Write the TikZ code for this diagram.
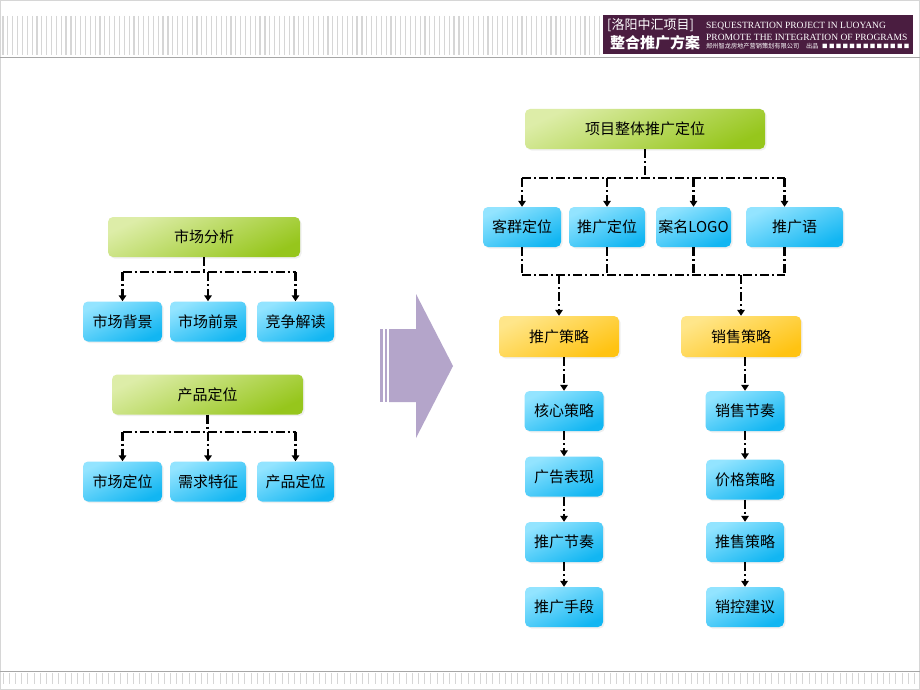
\documentclass[tikz,border=0pt]{standalone}
\usepackage{fontspec}
\setmainfont{Noto Sans CJK SC}
\newfontfamily\enserif{Liberation Serif}
\usetikzlibrary{positioning,arrows.meta,shadows,calc}

\definecolor{greenA}{HTML}{DDEDA8}
\definecolor{greenB}{HTML}{96C61C}
\definecolor{blueA}{HTML}{93E4FF}
\definecolor{blueB}{HTML}{12B6F2}
\definecolor{yellowA}{HTML}{FFE68A}
\definecolor{yellowB}{HTML}{FFC312}
\definecolor{headpurple}{HTML}{4A1D40}
\definecolor{arrowpurple}{HTML}{B4A5CA}
\definecolor{stripegray}{HTML}{D6D6D6}

\begin{document}
\begin{tikzpicture}[x=1pt,y=-1pt,
  box/.style={rounded corners=5pt,minimum height=40pt,inner sep=0pt,
    font=\fontsize{15}{17}\selectfont,
    drop shadow={opacity=0.12,shadow xshift=1.5pt,shadow yshift=-1.5pt}},
  greenbox/.style={box,top color=greenA,bottom color=greenB,shading angle=25},
  bluebox/.style={box,top color=blueA,bottom color=blueB,shading angle=25},
  yellowbox/.style={box,minimum height=41pt,minimum width=120pt,top color=yellowA,bottom color=yellowB,shading angle=25},
  link/.style={line width=2.2pt,dash pattern=on 9pt off 3pt on 2pt off 3pt},
  tip/.style={link,-{Triangle[length=6pt,width=7.5pt]}},
  headtext/.style={anchor=west,inner sep=0pt,text=white}
]
\useasboundingbox (0,0) rectangle (920,690);
\fill[white] (0,0) rectangle (920,690);
\draw[stripegray] (0.5,0.5) rectangle (919.5,689.5);

% header
\foreach \i in {0,...,123}
  \draw[stripegray,line width=1.2pt] ({3+\i*4.85},16) -- ++(0,39);
\draw[gray!70] (0,57) -- (920,57);
\fill[headpurple] (603,15) rectangle (913,54);
\node[headtext,font=\fontsize{13}{13}\selectfont] (hname) at (607,25.5) {[洛阳中汇项目]};
\node[headtext,font=\bfseries\fontsize{15}{15}\selectfont] (hsub) at (610,43) {整合推广方案};
\node[headtext,font=\enserif\fontsize{9.5}{10}\selectfont] (hen1) at (706,26) {SEQUESTRATION PROJECT IN LUOYANG};
\node[headtext,font=\enserif\fontsize{9.5}{10}\selectfont] (hen2) at (706,37) {PROMOTE THE INTEGRATION OF PROGRAMS};
\node[headtext,font=\fontsize{6.2}{7}\selectfont] (hcn) at (706,46.5) {郑州智龙房地产营销策划有限公司\hspace{7pt}出品};
\node[headtext,font=\fontsize{5.5}{6}\selectfont] (hsq) at (822,46.5)
  {■\hspace{1.3pt}■\hspace{1.3pt}■\hspace{1.3pt}■\hspace{1.3pt}■\hspace{1.3pt}■\hspace{1.3pt}■\hspace{1.3pt}■\hspace{1.3pt}■\hspace{1.3pt}■\hspace{1.3pt}■\hspace{1.3pt}■\hspace{1.3pt}■};

% footer
\draw[gray!70] (0,671) -- (920,671);
\foreach \i in {0,...,147}
  \draw[stripegray,line width=1pt] ({3+\i*6.2},673) -- ++(0,11);

% left side
\node[greenbox,minimum width=192pt] (scfx) at (204,237) {市场分析};
\node[bluebox,minimum width=79pt] (scbj) at (122.5,321.5) {市场背景};
\node[bluebox,minimum width=76pt] (scqj) at (208,321.5) {市场前景};
\node[bluebox,minimum width=77pt] (jzjd) at (295.5,321.5) {竞争解读};

\draw[link] (scfx.south) -- ++(0,15) coordinate (busa);
\draw[link] (busa -| scbj.north) -- (busa -| jzjd.north);
\foreach \n in {scbj,scqj,jzjd}
  \draw[tip] (busa -| \n.north) -- (\n.north);

\node[greenbox,minimum width=191pt] (cpdw) at (207.5,394.5) {产品定位};
\node[bluebox,minimum width=79pt] (scdw) at (122.5,481.5) {市场定位};
\node[bluebox,minimum width=76pt] (xqtz) at (208,481.5) {需求特征};
\node[bluebox,minimum width=77pt] (cpdwb) at (295.5,481.5) {产品定位};

\draw[link] (cpdw.south) -- ++(0,17) coordinate (busb);
\draw[link] (busb -| scdw.north) -- (busb -| cpdwb.north);
\foreach \n in {scdw,xqtz,cpdwb}
  \draw[tip] (busb -| \n.north) -- (\n.north);

% big arrow
\fill[arrowpurple] (389,329) -- (416,329) -- (416,294) -- (453,366)
  -- (416,438) -- (416,402) -- (389,402) -- cycle;
\fill[arrowpurple] (380,329) rectangle (382.5,402);
\fill[arrowpurple] (384.5,329) rectangle (387,402);

% right side
\node[greenbox,minimum width=240pt] (ztdw) at (645,129) {项目整体推广定位};
\node[bluebox,minimum width=78pt] (kqdw) at (522,227) {客群定位};
\node[bluebox,minimum width=76pt] (tgdw) at (607,227) {推广定位};
\node[bluebox,minimum width=75pt] (amlogo) at (693.5,227) {案名LOGO};
\node[bluebox,minimum width=97pt] (tgy) at (794.5,227) {推广语};

\draw[link] (ztdw.south) -- ++(0,29) coordinate (busc);
\draw[link] (busc -| kqdw.north) -- (busc -| {$(tgy.north)+(-10,0)$});
\foreach \n in {kqdw,tgdw,amlogo}
  \draw[tip] (busc -| \n.north) -- (\n.north);
\draw[tip] (busc -| {$(tgy.north)+(-10,0)$}) -- ($(tgy.north)+(-10,0)$);

\coordinate (busd) at ($(kqdw.south)+(0,28)$);
\foreach \n in {kqdw,tgdw,amlogo}
  \draw[link] (\n.south) -- (busd -| \n.south);
\draw[link] ($(tgy.south)+(-10,0)$) -- (busd -| {$(tgy.south)+(-10,0)$});
\draw[link] (busd -| kqdw.south) -- (busd -| {$(tgy.south)+(-10,0)$});

\node[yellowbox] (tgcl) at (559,336.5) {推广策略};
\node[yellowbox] (xscl) at (741,336.5) {销售策略};
\draw[tip] (busd -| tgcl.north) -- (tgcl.north);
\draw[tip] (busd -| xscl.north) -- (xscl.north);

\node[bluebox,minimum width=79pt] (hxcl) at (564,411) {核心策略};
\node[bluebox,minimum width=78pt] (ggbx) at (564,476.5) {广告表现};
\node[bluebox,minimum width=78pt] (tgjz) at (564,542) {推广节奏};
\node[bluebox,minimum width=78pt] (tgsd) at (564,607) {推广手段};

\node[bluebox,minimum width=79pt] (xsjz) at (745,411) {销售节奏};
\node[bluebox,minimum width=78pt] (jgcl) at (745,479.5) {价格策略};
\node[bluebox,minimum width=78pt] (tscl) at (745,542) {推售策略};
\node[bluebox,minimum width=78pt] (xkjy) at (745,607) {销控建议};

\draw[tip] (hxcl.north |- tgcl.south) -- (hxcl.north);
\draw[tip] (xsjz.north |- xscl.south) -- (xsjz.north);
\path (hxcl) edge[tip] (ggbx)
      (ggbx) edge[tip] (tgjz)
      (tgjz) edge[tip] (tgsd)
      (xsjz) edge[tip] (jgcl)
      (jgcl) edge[tip] (tscl)
      (tscl) edge[tip] (xkjy);

\end{tikzpicture}
\end{document}
